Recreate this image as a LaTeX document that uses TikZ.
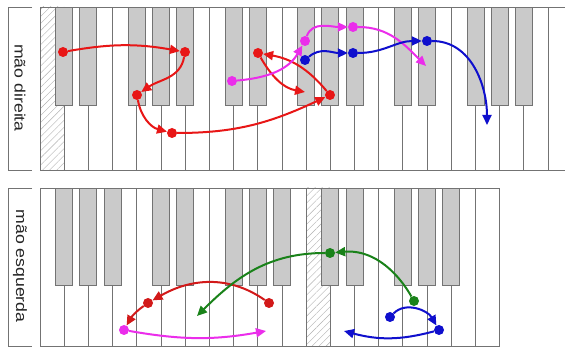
\documentclass[tikz,border=0pt]{standalone}
\usepackage{fontspec}
\setmainfont{Liberation Sans}
\usetikzlibrary{arrows.meta,patterns.meta}
\definecolor{keyline}{RGB}{115,115,115}
\definecolor{blackkey}{RGB}{202,202,202}
\definecolor{cred}{RGB}{232,22,22}
\definecolor{cred2}{RGB}{210,25,25}
\definecolor{cmag}{RGB}{235,45,235}
\definecolor{cblue}{RGB}{15,15,205}
\definecolor{cgreen}{RGB}{25,130,25}
\begin{document}
\begin{tikzpicture}[x=1pt,y=1pt,
  wkey/.style={draw=keyline,line width=0.8pt},
  bkey/.style={draw=keyline,fill=blackkey,line width=0.8pt},
  hatch/.style={pattern={Lines[angle=45,distance=5pt,line width=0.4pt]},pattern color=gray!60},
  dot/.style={circle,fill=#1,inner sep=0pt,minimum size=10pt},
  arr/.style={draw=#1,line width=2pt,-{Triangle[length=10pt,width=9pt]}},
  lab/.style={rotate=-90,font=\fontsize{15}{15}\selectfont,text=black!85}
]
\useasboundingbox (0,0) rectangle (565,-347);
\fill[white] (0,0) rectangle (565,-347);
\def\w{24.19}
\begin{scope}
\clip (0,0) rectangle (565,-347);
% top keyboard
\fill[hatch] (40,-7) rectangle ({40+\w},-170);
\foreach \i in {0,...,21} \draw[wkey] ({40+\i*\w},-7) rectangle ({40+(\i+1)*\w},-170);
\foreach \k in {1,2,4,5,6,8,9,11,12,13,15,16,18,19,20}
  \draw[bkey] ({40+\k*\w-8.5},-7) rectangle ({40+\k*\w+8.5},-105);
% bottom keyboard
\fill[hatch] ({40+11*\w},-188) rectangle ({40+12*\w},-346);
\foreach \i in {0,...,18} \draw[wkey] ({40+\i*\w},-188) rectangle ({40+(\i+1)*\w},-346);
\foreach \k in {1,2,3,5,6,8,9,10,12,13,15,16,17}
  \draw[bkey] ({40+\k*\w-8.5},-188) rectangle ({40+\k*\w+8.5},-285);
\end{scope}
% brackets and labels
\draw[keyline,line width=0.8pt] (32,-7) -- (8,-7) -- (8,-170) -- (32,-170);
\draw[keyline,line width=0.8pt] (32,-188) -- (8,-188) -- (8,-346) -- (32,-346);
\node[lab] (ld) at (20,-88) {\scalebox{1.18}[1]{mão direita}};
\node[lab] (le) at (20,-266) {\scalebox{1.18}[1]{mão esquerda}};
% top dots
\node[dot=cred] (r1) at (63,-52) {};
\node[dot=cred] (r2) at (185,-52) {};
\node[dot=cred] (r3) at (137,-95) {};
\node[dot=cred] (r4) at (172,-133) {};
\node[dot=cred] (r5) at (330,-95) {};
\node[dot=cred] (r6) at (258,-53) {};
\coordinate (re) at (305,-92);
\node[dot=cmag] (m1) at (232,-81) {};
\node[dot=cmag] (m2) at (305,-41) {};
\node[dot=cmag] (m3) at (353,-27) {};
\coordinate (me) at (426,-66);
\node[dot=cblue] (b1) at (305,-60) {};
\node[dot=cblue] (b2) at (353,-53) {};
\node[dot=cblue] (b3) at (427,-41) {};
\coordinate (be) at (487,-125);
% top arrows
\draw[arr=cred] (r1) to[out=10,in=170] (r2);
\draw[arr=cred] (r2) to[out=-100,in=35] (r3);
\draw[arr=cred] (r3) to[out=-80,in=165] (r4);
\draw[arr=cred] (r4) to[out=0,in=205] (r5);
\draw[arr=cred] (r5) to[out=130,in=-10] (r6);
\draw[arr=cred] (r6) to[out=-60,in=170] (re);
\draw[arr=cmag] (m1) to[out=5,in=-120] (m2);
\draw[arr=cmag] (m2) to[out=70,in=180] (m3);
\draw[arr=cmag] (m3) to[out=0,in=135] (me);
\draw[arr=cblue] (b1) to[out=40,in=180] (b2);
\draw[arr=cblue] (b2) to[out=0,in=180] (b3);
\draw[arr=cblue] (b3) to[out=0,in=90] (be);
% bottom dots
\node[dot=cred2] (rb1) at (269,-303) {};
\node[dot=cred2] (rb2) at (148,-303) {};
\node[dot=cmag] (mb1) at (124,-330) {};
\coordinate (mbe) at (266,-331);
\node[dot=cgreen] (g1) at (414,-301) {};
\node[dot=cgreen] (g2) at (330,-253) {};
\coordinate (ge) at (197,-316);
\node[dot=cblue] (bl1) at (390,-317) {};
\node[dot=cblue] (bl2) at (439,-330) {};
\coordinate (ble) at (344,-331);
% bottom arrows
\draw[arr=cred2] (rb1) to[out=145,in=30] (rb2);
\draw[arr=cred2] (rb2) to[out=215,in=60] (mb1);
\draw[arr=cmag] (mb1) to[out=-10,in=190] (mbe);
\draw[arr=cgreen] (g1) to[out=120,in=5] (g2);
\draw[arr=cgreen] (g2) to[out=180,in=45] (ge);
\draw[arr=cblue] (bl1) to[out=45,in=120] (bl2);
\draw[arr=cblue] (bl2) to[out=195,in=-15] (ble);
\end{tikzpicture}
\end{document}
